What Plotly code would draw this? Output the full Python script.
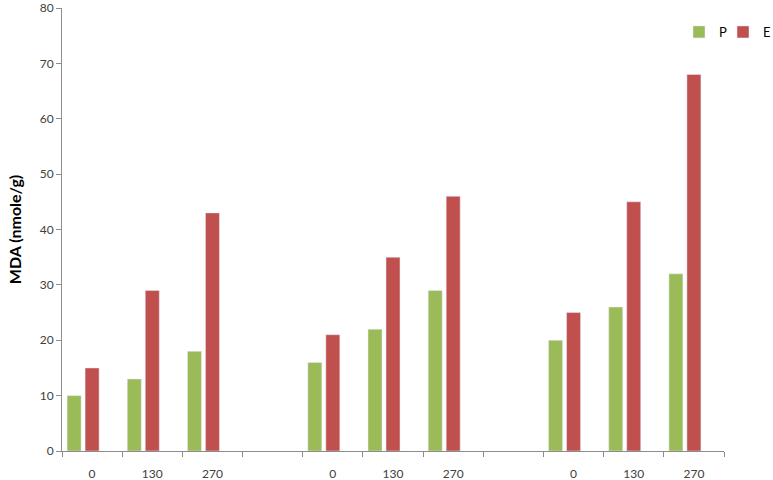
import plotly.graph_objects as go

# category ids (unique) and their displayed tick labels
cat_ids = ["g1_0", "g1_130", "g1_270", "gap1", "g2_0", "g2_130", "g2_270", "gap2", "g3_0", "g3_130", "g3_270"]
tick_labels = ["0", "130", "270", "", "0", "130", "270", "", "0", "130", "270"]
y_ticks = [0, 10, 20, 30, 40, 50, 60, 70, 80]

p_values = [10, 13, 18, None, 16, 22, 29, None, 20, 26, 32]
e_values = [15, 29, 43, None, 21, 35, 46, None, 25, 45, 68]
empty_values = [None] * 11

fig = go.Figure()
fig.add_trace(go.Bar(name="P", x=cat_ids, y=p_values, marker_color="#9BBB59", legend="legend"))
fig.add_trace(go.Bar(name="E", x=cat_ids, y=e_values, marker_color="#C0504D", legend="legend2"))
fig.add_trace(go.Bar(name="", x=cat_ids, y=empty_values, marker_color="#4F81BD", showlegend=False))

axis_color = "#8C8C8C"
legend_common = dict(
    orientation="h", yanchor="middle", y=0.9458, xanchor="left",
    font=dict(size=13, color="#000000"), bgcolor="rgba(0,0,0,0)",
    entrywidth=5,
)
fig.update_layout(
    width=773, height=480,
    margin=dict(l=62, r=49, t=8, b=29, autoexpand=False),
    plot_bgcolor="white", paper_bgcolor="white",
    barmode="group", bargap=0.103, bargroupgap=0.222,
    font=dict(family="Lato, Open Sans, sans-serif", size=12, color="#404040"),
    xaxis=dict(
        type="category", categoryorder="array", categoryarray=cat_ids,
        tickmode="array", tickvals=cat_ids, ticktext=tick_labels,
        tickson="boundaries", ticks="outside", ticklen=5, tickcolor=axis_color,
        showline=True, linecolor=axis_color, linewidth=1, showgrid=False,
        tickfont=dict(size=12, color="#404040"), ticklabelstandoff=12,
    ),
    yaxis=dict(
        range=[0, 80], tickvals=y_ticks,
        ticks="outside", ticklen=5, tickcolor=axis_color,
        showline=True, linecolor=axis_color, linewidth=1, showgrid=False, zeroline=False,
        title=dict(text="<b>MDA (nmole/g)</b>", font=dict(size=16, color="#000000"), standoff=14),
        tickfont=dict(size=12, color="#404040"),
    ),
    legend=dict(x=0.932, **legend_common),
    legend2=dict(x=0.9985, **legend_common),
)

fig.write_html("out.html", config={"displayModeBar": False},
               post_script="document.body.style.margin='0';")
